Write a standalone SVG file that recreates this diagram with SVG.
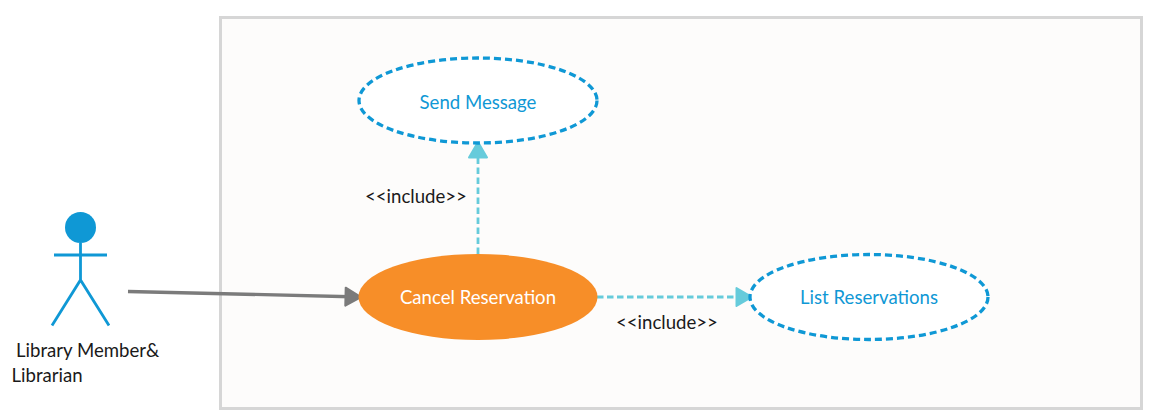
<svg xmlns="http://www.w3.org/2000/svg" width="1154" height="419" viewBox="0 0 1154 419">
<style>
text{font-family:Lato,"Open Sans",sans-serif}
.lbl{font-size:18.600px;fill:#1a1a1a}
.uc{font-size:18.600px;fill:#0f98d5;text-anchor:middle}
.dash{fill:#fff;stroke:#0f98d5;stroke-width:3.300;stroke-dasharray:7 4}
.inc{fill:none;stroke:#66cbdb;stroke-width:2.800;stroke-dasharray:6.500 3.500}
.act{fill:none;stroke:#0f98d5;stroke-width:2.800}
</style>
<defs>
<marker id="ah-c" markerUnits="userSpaceOnUse" markerWidth="20" markerHeight="24" refX="17" refY="11" orient="auto"><path d="M1.500 2L17 11L1.500 20Z" fill="#66cbdb" stroke="#66cbdb" stroke-width="2" stroke-linejoin="round"/></marker>
<marker id="ah-g" markerUnits="userSpaceOnUse" markerWidth="20" markerHeight="24" refX="17" refY="11" orient="auto"><path d="M1.500 2L17 11L1.500 20Z" fill="#7b7b7b" stroke="#7b7b7b" stroke-width="2" stroke-linejoin="round"/></marker>
</defs>
<g id="boundary"><rect x="220.500" y="17.500" width="921" height="391" fill="#fdfcfb" stroke="#d6d6d6" stroke-width="3"/></g>
<g id="connectors">
<path d="M128 291.500L361 297" fill="none" stroke="#7b7b7b" stroke-width="3.300" marker-end="url(#ah-g)"/>
<path class="inc" d="M478 254V142" marker-end="url(#ah-c)"/>
<path class="inc" d="M597 297H752" marker-end="url(#ah-c)"/>
</g>
<g id="actor">
<circle cx="80.500" cy="227.500" r="15.500" fill="#0f98d5"/>
<path class="act" d="M80.500 243V280M54 255H107M52 325.500L80.500 280L109 325.500"/>
<text class="lbl" x="16" y="357">Library Member&amp;</text>
<text class="lbl" x="11.500" y="382">Librarian</text>
</g>
<g id="send-message"><ellipse class="dash" cx="478" cy="100.500" rx="119" ry="42.500"/><text class="uc" x="478" y="109">Send Message</text></g>
<g id="cancel-reservation"><ellipse cx="478" cy="297" rx="119.500" ry="43" fill="#f78e28"/><text x="478" y="304" font-size="18.600" fill="#fff" text-anchor="middle">Cancel Reservation</text></g>
<g id="list-reservations"><ellipse class="dash" cx="869" cy="297" rx="119" ry="42.500"/><text class="uc" x="869" y="304">List Reservations</text></g>
<g id="labels">
<text class="lbl" x="365" y="203">&lt;&lt;include&gt;&gt;</text>
<text class="lbl" x="616" y="329">&lt;&lt;include&gt;&gt;</text>
</g>
</svg>
